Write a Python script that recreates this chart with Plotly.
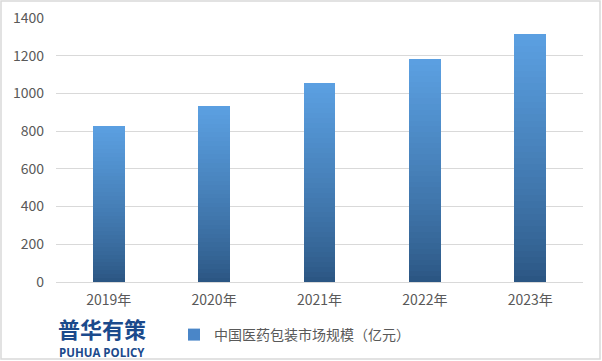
import plotly.graph_objects as go

categories = ["2019年", "2020年", "2021年", "2022年", "2023年"]
values = [829, 933, 1054, 1180, 1316]
series_name = "中国医药包装市场规模（亿元）"
y_ticks = [0, 200, 400, 600, 800, 1000, 1200, 1400]

# gradient: light blue at top -> dark blue at bottom, drawn as stacked slices
top_rgb = (91, 160, 226)
bot_rgb = (42, 84, 128)
N = 40

def mix(t):
    # t=0 bottom, t=1 top
    r = [round(bot_rgb[k] + (top_rgb[k] - bot_rgb[k]) * t) for k in range(3)]
    return f"rgb({r[0]},{r[1]},{r[2]})"

fig = go.Figure()
for i in range(N):
    t = (i + 0.5) / N
    fig.add_trace(go.Bar(
        x=categories,
        y=[v / N for v in values],
        marker=dict(color=mix(t ** 0.8), line=dict(width=0)),
        width=0.3,
        showlegend=False,
        hoverinfo="skip",
    ))

# legend entry
fig.add_trace(go.Bar(
    x=categories, y=[0] * len(categories),
    name=series_name,
    marker=dict(color="rgb(74,134,200)", line=dict(width=0)),
    width=0.3, showlegend=True, hoverinfo="skip",
))

W, H = 602, 361
ml, mr, mt, mb = 56, 19, 18, 79
pw = W - ml - mr
ph = H - mt - mb

fig.update_layout(
    width=W, height=H,
    margin=dict(l=ml, r=mr, t=mt, b=mb, autoexpand=False),
    barmode="stack",
    paper_bgcolor="white",
    plot_bgcolor="white",
    font=dict(family="Noto Sans CJK SC, sans-serif", size=14, color="#595959"),
    xaxis=dict(
        showgrid=False, showline=True, linecolor="#d9d9d9", linewidth=1,
        ticks="", tickfont=dict(size=14, color="#595959"), fixedrange=True,
        automargin=False, ticklabelstandoff=5,
    ),
    yaxis=dict(
        range=[0, 1400], tickvals=y_ticks, showgrid=True, gridcolor="#d9d9d9",
        gridwidth=1, zeroline=False, ticks="", ticklabelstandoff=11,
        tickfont=dict(size=14, color="#595959"), fixedrange=True,
        automargin=False,
    ),
    legend=dict(
        orientation="h", x=(174 - ml) / pw, xanchor="left",
        y=-(335 - mt - ph) / ph, yanchor="middle",
        font=dict(size=14, color="#595959"),
        bgcolor="rgba(0,0,0,0)", itemwidth=30,
    ),
    showlegend=True,
    bargap=0.7,
)

fig.add_annotation(
    xref="paper", yref="paper", x=(56 - ml) / pw, y=-(328 - mt - ph) / ph,
    xanchor="left", yanchor="middle", showarrow=False,
    text="<b>普华有策</b>",
    font=dict(family="Noto Sans CJK SC", size=22, color="#1b4a8c"),
)
fig.add_annotation(
    xref="paper", yref="paper", x=(57 - ml) / pw, y=-(352 - mt - ph) / ph,
    xanchor="left", yanchor="middle", showarrow=False,
    text="<b>PUHUA POLICY</b>",
    font=dict(family="Open Sans", size=11.5, color="#1b4a8c"),
)

fig.add_shape(
    type="rect", xref="paper", yref="paper",
    x0=-(ml - 1) / pw, x1=(W - ml - 2) / pw,
    y0=-(mb - 2) / ph, y1=1 + (mt - 1) / ph,
    line=dict(color="#d9d9d9", width=1.5), layer="below",
)

fig.write_html(
    "out.html",
    config={"displayModeBar": False},
    post_script="document.body.style.margin='0';document.body.style.overflow='hidden';",
)
